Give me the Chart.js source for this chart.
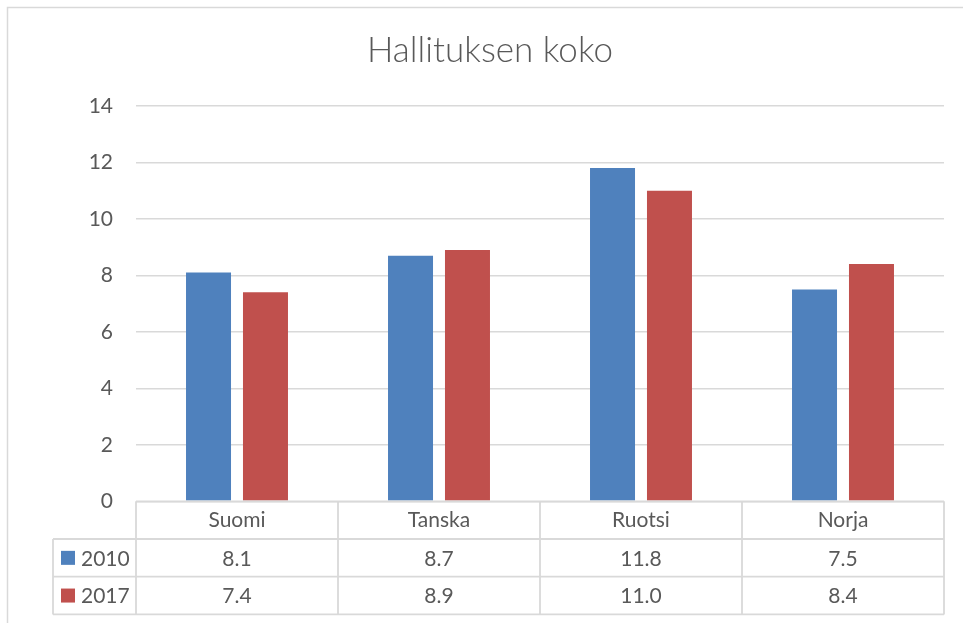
<!DOCTYPE html>
<html>
<head>
<meta charset="utf-8">
<script src="https://cdn.jsdelivr.net/npm/chart.js@4"></script>
<style>
  html, body { margin: 0; padding: 0; background: #ffffff; }
  #wrap { width: 963px; height: 623px; position: relative; }
</style>
</head>
<body>
<div id="wrap"><canvas id="c" width="963" height="623"></canvas></div>
<script>
const titleText = 'Hallituksen koko';
const categories = ['Suomi', 'Tanska', 'Ruotsi', 'Norja'];
const seriesNames = ['2010', '2017'];
const values2010 = [8.1, 8.7, 11.8, 7.5];
const values2017 = [7.4, 8.9, 11.0, 8.4];
const yTicks = [0, 2, 4, 6, 8, 10, 12, 14];
const seriesColors = ['#4f81bd', '#c0504d'];

const textColor = '#595959';
const lineColor = '#d9d9d9';
const FONT = 'Lato, "Open Sans", "DejaVu Sans", sans-serif';

const ROW_H = 37.7;
const LEGEND_LEFT = 53;
const TITLE_X = 490;
const TITLE_Y = 51;

const dataTablePlugin = {
  id: 'dataTable',
  beforeDraw(chart) {
    const ctx = chart.ctx;
    ctx.save();
    ctx.strokeStyle = lineColor;
    ctx.lineWidth = 1.5;
    ctx.strokeRect(7.5, 7.5, chart.width + 20, chart.height + 20);
    ctx.restore();
  },
  afterDraw(chart) {
    const ctx = chart.ctx;
    const x = chart.scales.x;
    const top = chart.chartArea.bottom;
    const left = x.left, right = x.right;
    const n = categories.length;
    const colW = (right - left) / n;
    ctx.save();

    // title (centred on the chart frame)
    ctx.font = '300 35px ' + FONT;
    ctx.fillStyle = textColor;
    ctx.textAlign = 'center';
    ctx.textBaseline = 'middle';
    ctx.fillText(titleText, TITLE_X, TITLE_Y);

    ctx.strokeStyle = lineColor;
    ctx.lineWidth = 1.8;
    ctx.beginPath();
    ctx.moveTo(left, top); ctx.lineTo(right, top);
    for (let r = 1; r <= 3; r++) {
      const y = top + r * ROW_H;
      ctx.moveTo(LEGEND_LEFT, y); ctx.lineTo(right, y);
    }
    ctx.moveTo(LEGEND_LEFT, top + ROW_H); ctx.lineTo(LEGEND_LEFT, top + 3 * ROW_H);
    for (let c = 0; c <= n; c++) {
      const xx = left + c * colW;
      ctx.moveTo(xx, top); ctx.lineTo(xx, top + 3 * ROW_H);
    }
    ctx.stroke();

    const rows = [values2010, values2017];
    ctx.font = '21px ' + FONT;
    ctx.fillStyle = textColor;
    ctx.textBaseline = 'middle';
    rows.forEach((vals, r) => {
      const cy = top + (r + 1.5) * ROW_H;
      ctx.fillStyle = seriesColors[r];
      ctx.fillRect(61, cy - 7, 14, 14);
      ctx.fillStyle = textColor;
      ctx.textAlign = 'left';
      ctx.fillText(seriesNames[r], 81, cy + 1);
      ctx.textAlign = 'center';
      vals.forEach((v, i) => {
        ctx.fillText(v.toFixed(1), x.getPixelForValue(i), cy + 1);
      });
    });
    ctx.restore();
  }
};

new Chart(document.getElementById('c'), {
  type: 'bar',
  data: {
    labels: categories,
    datasets: [
      { label: seriesNames[0], data: values2010, backgroundColor: seriesColors[0], borderWidth: 0, categoryPercentage: 0.564, barPercentage: 0.79 },
      { label: seriesNames[1], data: values2017, backgroundColor: seriesColors[1], borderWidth: 0, categoryPercentage: 0.564, barPercentage: 0.79 }
    ]
  },
  options: {
    responsive: false,
    animation: false,
    devicePixelRatio: 1,
    layout: { padding: { left: 0, right: 19, top: 106, bottom: 84 } },
    plugins: {
      legend: { display: false },
      tooltip: { enabled: false },
      title: { display: false }
    },
    scales: {
      x: {
        grid: { display: false, drawTicks: false },
        border: { display: false },
        ticks: { color: textColor, font: { family: FONT, size: 21 }, padding: 6, maxRotation: 0 },
        afterFit(scale) { scale.height = ROW_H; }
      },
      y: {
        min: 0,
        max: 14,
        afterBuildTicks(scale) { scale.ticks = yTicks.map(v => ({ value: v })); },
        grid: { color: lineColor, lineWidth: 1.5, drawTicks: false },
        border: { display: false },
        ticks: { color: textColor, font: { family: FONT, size: 21 }, padding: 23 },
        afterFit(scale) { scale.width = 136; }
      }
    }
  },
  plugins: [dataTablePlugin]
});
</script>
</body>
</html>
